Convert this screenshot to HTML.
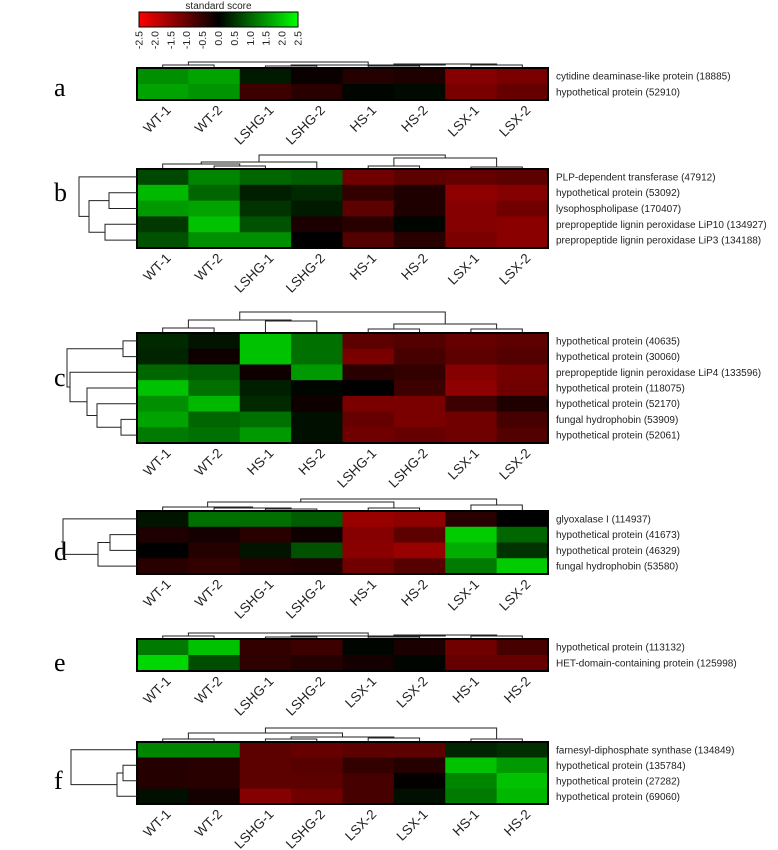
<!DOCTYPE html>
<html><head><meta charset="utf-8"><style>
html,body{margin:0;padding:0;background:#fff;}
svg{display:block;font-family:"Liberation Sans",sans-serif;}
</style></head><body>
<svg id="fig" width="778" height="850" viewBox="0 0 778 850"></svg>
<script>
// ---- data ----
const colsA=["WT-1","WT-2","LSHG-1","LSHG-2","HS-1","HS-2","LSX-1","LSX-2"];
const colsC=["WT-1","WT-2","HS-1","HS-2","LSHG-1","LSHG-2","LSX-1","LSX-2"];
const colsE=["WT-1","WT-2","LSHG-1","LSHG-2","LSX-1","LSX-2","HS-1","HS-2"];
const colsF=["WT-1","WT-2","LSHG-1","LSHG-2","LSX-2","LSX-1","HS-1","HS-2"];
const rowsA=["cytidine deaminase-like protein (18885)","hypothetical protein (52910)"];
const rowsB=["PLP-dependent transferase (47912)","hypothetical protein (53092)","lysophospholipase (170407)","prepropeptide lignin peroxidase LiP10 (134927)","prepropeptide lignin peroxidase LiP3 (134188)"];
const rowsC=["hypothetical protein (40635)","hypothetical protein (30060)","prepropeptide lignin peroxidase LiP4 (133596)","hypothetical protein (118075)","hypothetical protein (52170)","fungal hydrophobin (53909)","hypothetical protein (52061)"];
const rowsD=["glyoxalase I (114937)","hypothetical protein (41673)","hypothetical protein (46329)","fungal hydrophobin (53580)"];
const rowsE=["hypothetical protein (113132)","HET-domain-containing protein (125998)"];
const rowsF=["farnesyl-diphosphate synthase (134849)","hypothetical protein (135784)","hypothetical protein (27282)","hypothetical protein (69060)"];
const valsA=[[1.4,1.6,0.25,-0.1,-0.35,-0.3,-1.3,-1.2],[1.6,1.45,-0.6,-0.4,0.05,0.1,-1.2,-1.0]];
const valsB=[[0.7,1.3,1.0,0.9,-1.1,-0.9,-1.0,-0.9],[1.8,1.0,0.3,0.4,-0.5,-0.3,-1.4,-1.3],[1.5,1.6,0.5,0.25,-0.9,-0.3,-1.3,-1.1],[0.55,1.9,0.8,-0.25,-0.4,0.05,-1.3,-1.35],[0.8,1.4,1.4,0.0,-0.8,-0.4,-1.2,-1.35]];
const valsC=[[0.4,0.2,1.9,1.1,-0.9,-0.8,-1.0,-0.9],[0.35,-0.15,1.9,1.1,-1.2,-0.7,-0.9,-0.8],[1.0,0.9,-0.15,1.5,-0.4,-0.5,-1.3,-1.15],[1.9,1.1,0.3,0.05,0.0,-0.6,-1.4,-1.1],[1.4,1.8,0.4,-0.15,-1.2,-1.2,-0.6,-0.3],[1.6,1.0,1.1,0.15,-1.0,-1.2,-1.1,-0.7],[1.2,1.1,1.5,0.15,-1.1,-1.0,-1.1,-0.8]];
const valsD=[[0.2,1.1,1.1,0.9,-1.5,-1.4,-0.4,0.0],[-0.3,-0.2,-0.4,-0.15,-1.3,-0.9,2.0,1.0],[0.0,-0.35,0.2,0.8,-1.35,-1.5,1.7,0.5],[-0.4,-0.5,-0.35,-0.3,-1.1,-0.85,1.2,2.0]];
const valsE=[[1.2,1.9,-0.5,-0.6,0.05,-0.25,-1.1,-0.7],[2.1,0.75,-0.45,-0.35,-0.2,0.05,-1.0,-1.0]];
const valsF=[[1.3,1.3,-0.9,-1.0,-0.9,-0.9,0.35,0.45],[-0.35,-0.4,-0.9,-0.85,-0.5,-0.35,1.9,1.5],[-0.35,-0.4,-0.9,-0.9,-0.7,-0.05,1.3,1.9],[0.15,-0.2,-1.3,-1.1,-0.7,0.15,1.2,1.8]];
const legendTicks=["-2.5","-2.0","-1.5","-1.0","-0.5","0.0","0.5","1.0","1.5","2.0","2.5"];

const NS="http://www.w3.org/2000/svg";
const svg=document.getElementById('fig');
function mk(tag,attrs,parent){const e=document.createElementNS(NS,tag);for(const k in attrs)e.setAttribute(k,attrs[k]);(parent||svg).appendChild(e);return e;}
function color(v){const t=Math.min(1,Math.abs(v)/2.5);const c=Math.round(t*255);return v>=0?`rgb(0,${c},0)`:`rgb(${c},0,0)`;}

// legend
const lg=mk('g',{});


const defs=mk('defs',{});
const grad=mk('linearGradient',{id:'lgGrad',x1:0,x2:1,y1:0,y2:0},defs);
mk('stop',{offset:'0',  'stop-color':'rgb(255,0,0)'},grad);
mk('stop',{offset:'0.5','stop-color':'rgb(0,0,0)'},grad);
mk('stop',{offset:'1',  'stop-color':'rgb(0,255,0)'},grad);
const lx0=139,lx1=298;
const lt=mk('text',{x:(lx0+lx1)/2,y:9,'text-anchor':'middle','font-size':10,fill:'#222'},lg);lt.textContent='standard score';

mk('rect',{x:lx0,y:12,width:lx1-lx0,height:15,fill:'url(#lgGrad)',stroke:'#000','stroke-width':1},lg);
legendTicks.forEach((t,i)=>{const x=lx0+(lx1-lx0)*i/(legendTicks.length-1);
  const e=mk('text',{x:0,y:0,transform:`translate(${x+3.5},31) rotate(-90)`,'text-anchor':'end','font-size':10.5,fill:'#222'},lg);e.textContent=t;
  });

const X0=137,W=411,CW=W/8;
function drawColTree(g,tree,top){
  function rec(n){
    if(typeof n==='number') return {x:X0+CW*(n+0.5),h:0};
    const a=rec(n[0]),b=rec(n[1]),h=n[2];
    mk('path',{d:`M${a.x},${top-a.h}V${top-h}H${b.x}V${top-b.h}`,fill:'none',stroke:'#222','stroke-width':1},g);
    return {x:(a.x+b.x)/2,h:h};
  }
  rec(tree);
}
function drawRowTree(g,tree,top,rh){
  function rec(n){
    if(typeof n==='number') return {y:top+rh*(n+0.5),d:0};
    const a=rec(n[0]),b=rec(n[1]),d=n[2];
    mk('path',{d:`M${X0-a.d},${a.y}H${X0-d}V${b.y}H${X0-b.d}`,fill:'none',stroke:'#222','stroke-width':1},g);
    return {y:(a.y+b.y)/2,d:d};
  }
  rec(tree);
}
function panel(letter,cols,rows,vals,top,bottom,letterY,colTree,rowTree){
  const g=mk('g',{});
  
  
  const rh=(bottom-top)/rows.length;
  const L=mk('text',{x:54,y:letterY,'font-size':26,'font-family':'Liberation Serif,serif',fill:'#000'},g);L.textContent=letter;
  
  vals.forEach((row,r)=>row.forEach((v,c)=>{
    const cell=mk('rect',{x:X0+c*CW,y:top+r*rh,width:CW+0.5,height:rh+0.5,fill:color(v)},g);
    
    
  }));
  mk('rect',{x:X0,y:top,width:W,height:bottom-top,fill:'none',stroke:'#000','stroke-width':2},g);
  rows.forEach((t,r)=>{const e=mk('text',{x:556,y:top+rh*(r+0.5)+3.5,'font-size':10,fill:'#222'},g);e.textContent=t;
    });
  cols.forEach((t,c)=>{const cx=X0+CW*(c+0.5);
    const e=mk('text',{x:0,y:0,transform:`translate(${cx+9},${bottom+11}) rotate(-45)`,'text-anchor':'end','font-size':13.5,fill:'#222'},g);e.textContent=t;
    });
  const dg=mk('g',{},g);
  
  drawColTree(dg,colTree,top-1);
  if(rowTree){const rg=mk('g',{},g);
    
    drawRowTree(rg,rowTree,top,rh);}
}
panel('a',colsA,rowsA,valsA,68,100,96,[[0,1,2],[[2,3,1],[[4,5,1],[6,7,2],3],2],5],null);
panel('b',colsA,rowsB,valsB,169,248,201,[[[0,[1,2,2],4],3,6],[[4,5,2],[6,7,1],10],13],[0,[[1,2,28],[3,4,32],48],58]);
panel('c',colsC,rowsC,valsC,333,443,386,[[[0,1,4],[2,3,11],12],[[4,5,3],[6,7,3],8],20],[[0,1,14],[2,[3,[4,[5,6,16],40],50],67],70]);
panel('d',colsA,rowsD,valsD,511,574,560,[[[0,[1,[2,3,1],2],3],[4,5,2],8],[6,7,5],11],[0,[[1,2,27],3,39],74]);
panel('e',colsE,rowsE,valsE,639,671,671,[[0,1,2],[[2,3,1],[[4,5,1],[6,7,2],3],2],5],null);
panel('f',colsF,rowsF,valsF,742,804,789,[[[0,1,2],[[2,3,2],[4,5,3],4],8],[6,7,2],13],[0,[[1,2,14],3,20],66]);
</script>
</body></html>
